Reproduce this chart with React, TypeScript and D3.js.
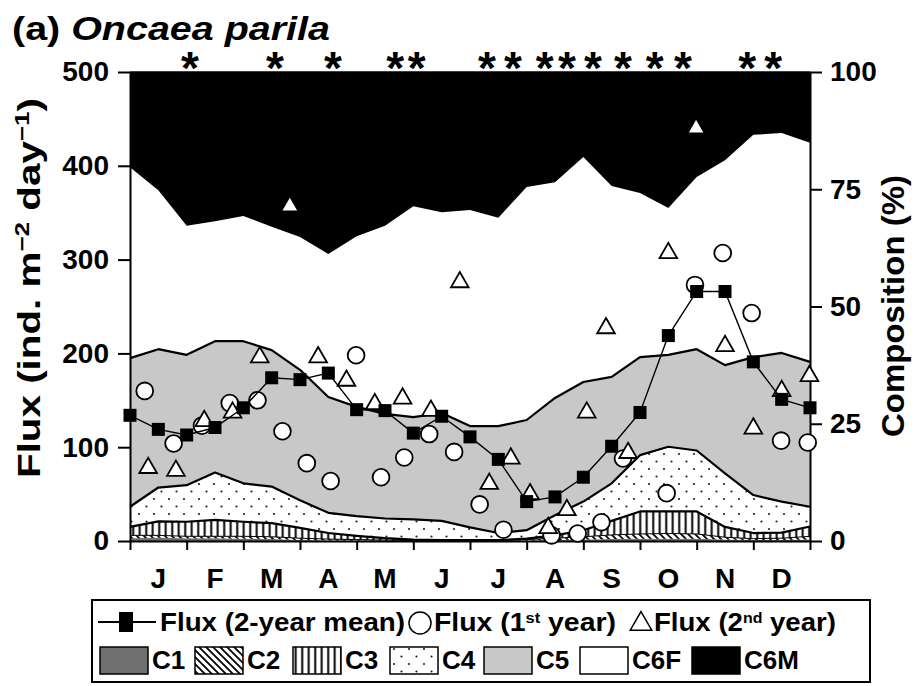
import React, { useEffect, useRef } from 'react';
import * as d3 from 'd3';

const months = ['J', 'F', 'M', 'A', 'M', 'J', 'J', 'A', 'S', 'O', 'N', 'D'];

// composition samples, twice a month (x in months from 1 Jan)
const compMonth = [0, 0.5, 1, 1.5, 2, 2.5, 3, 3.5, 4, 4.5, 5, 5.5, 6, 6.5, 7, 7.5, 8, 8.5, 9, 9.5, 10, 10.5, 11, 11.5, 12];
const c1 = [0.6, 0.7, 0.6, 0.6, 0.5, 0.4, 0.2, 0.1, 0.1, 0.1, 0.1, 0.1, 0.1, 0.1, 0.1, 0.2, 0.3, 0.4, 0.5, 0.5, 0.5, 0.3, 0.2, 0.2, 0.3];
const c2 = [0.6, 0.5, 0.4, 0.4, 0.5, 0.5, 0.4, 0.3, 0.2, 0.1, 0, 0, 0, 0, 0.2, 0.4, 0.6, 0.9, 1.0, 1.1, 1.0, 0.5, 0.3, 0.4, 0.7];
const c3 = [1.8, 3.0, 3.1, 3.5, 3.1, 2.9, 2.2, 1.3, 0.8, 0.4, 0.2, 0.1, 0.1, 0.1, 0.2, 0.6, 1.4, 3.0, 4.8, 4.7, 4.8, 2.2, 1.2, 1.2, 2.1];
const c4 = [4.3, 7.2, 7.8, 10.1, 8.2, 7.8, 5.9, 4.3, 4.2, 4.2, 4.3, 4.1, 2.7, 1.5, 1.8, 4.3, 6.1, 8.0, 12.0, 13.8, 13.0, 11.4, 8.1, 6.6, 4.2];
const c5 = [31.7, 29.5, 27.8, 28.0, 30.3, 29.1, 27.8, 24.7, 23.3, 22.3, 21.8, 23.0, 21.6, 22.8, 23.5, 25.0, 25.5, 22.7, 20.9, 19.6, 21.6, 23.1, 29.4, 31.7, 30.9];
const c6f = [40.7, 33.9, 27.5, 25.6, 26.7, 26.3, 28.3, 30.5, 36.4, 40.1, 45.0, 42.8, 46.1, 44.4, 49.7, 46.0, 48.0, 40.7, 35.0, 31.3, 36.7, 43.7, 47.4, 46.9, 46.7];
const c6m = [20.3, 25.2, 32.8, 31.8, 30.7, 33.0, 35.2, 38.8, 35.0, 32.8, 28.6, 29.9, 29.4, 31.1, 24.5, 23.5, 18.1, 24.3, 25.8, 29.0, 22.4, 18.8, 13.4, 13.0, 15.1];

// 2-year mean flux
const meanFlux = [134, 119, 113, 121, 142, 174, 172, 179, 140, 139, 115, 133, 111, 87, 42, 47, 68, 101, 137, 219, 266, 266, 191, 151, 142];

// 1st year
const y1Month = [0.26, 0.77, 1.27, 1.76, 2.25, 2.69, 3.12, 3.54, 3.99, 4.43, 4.84, 5.28, 5.72, 6.17, 6.59, 7.44, 7.9, 8.32, 8.7, 9.47, 9.97, 10.46, 10.97, 11.49, 11.96];
const y1Flux = [160, 104, 123, 147, 150, 117, 83, 64, 198, 68, 89, 114, 95, 39, 12, 6, 8, 20, 88, 51, 273, 307, 243, 107, 105];

// 2nd year
const y2Month = [0.32, 0.81, 1.31, 1.81, 2.29, 2.82, 3.32, 3.82, 4.32, 4.81, 5.31, 5.82, 6.34, 6.72, 7.06, 7.38, 7.71, 8.06, 8.4, 8.79, 9.5, 9.99, 10.5, 11.0, 11.5, 11.99];
const y2Flux = [79, 76, 129, 138, 197, 358, 197, 172, 147, 153, 140, 277, 62, 89, 51, 15, 34, 138, 228, 95, 308, 441, 209, 121, 161, 177];

// significance marks
const starMonth = [1.06, 2.56, 3.58, 4.68, 5.06, 6.3, 6.76, 7.32, 7.71, 8.17, 8.7, 9.26, 9.76, 10.89, 11.35];

const fluxTicks = [0, 100, 200, 300, 400, 500];
const pctTicks = [0, 25, 50, 75, 100];
const stages = ['C1', 'C2', 'C3', 'C4', 'C5', 'C6F', 'C6M'];

const FONT = '"Liberation Sans", Arial, sans-serif';

const App: React.FC = () => {
  const svgRef = useRef<SVGSVGElement>(null);

  useEffect(() => {
    if (!svgRef.current) return;
    const svg = d3.select(svgRef.current);
    svg.selectAll('*').remove();

    const left = 130, right = 810, top = 72, bottom = 541;
    const x = d3.scaleLinear().domain([0, 12]).range([left, right]);
    const yFlux = d3.scaleLinear().domain([0, 500]).range([bottom, top]);
    const yPct = d3.scaleLinear().domain([0, 100]).range([bottom, top]);

    const defs = svg.append('defs');
    const pc2 = defs.append('pattern').attr('id', 'p-c2').attr('patternUnits', 'userSpaceOnUse').attr('width', 7).attr('height', 7);
    pc2.append('rect').attr('width', 7).attr('height', 7).attr('fill', '#fff');
    pc2.append('path').attr('d', 'M-1,-1L8,8M-1,6L1,8M6,-1L8,1').attr('stroke', '#000').attr('stroke-width', 1.8);
    const pc3 = defs.append('pattern').attr('id', 'p-c3').attr('patternUnits', 'userSpaceOnUse').attr('width', 6.5).attr('height', 10);
    pc3.append('rect').attr('width', 6.5).attr('height', 10).attr('fill', '#fff');
    pc3.append('line').attr('x1', 3.2).attr('x2', 3.2).attr('y1', 0).attr('y2', 10).attr('stroke', '#000').attr('stroke-width', 2);
    const pc4 = defs.append('pattern').attr('id', 'p-c4').attr('patternUnits', 'userSpaceOnUse').attr('width', 15).attr('height', 15);
    pc4.append('rect').attr('width', 15).attr('height', 15).attr('fill', '#fff');
    pc4.append('circle').attr('cx', 4).attr('cy', 4).attr('r', 1.1).attr('fill', '#222');
    pc4.append('circle').attr('cx', 11.5).attr('cy', 11.5).attr('r', 1.1).attr('fill', '#222');

    const fills: Record<string, string> = {
      C1: '#6f6f6f', C2: 'url(#p-c2)', C3: 'url(#p-c3)', C4: 'url(#p-c4)',
      C5: '#c8c8c8', C6F: '#ffffff', C6M: '#000000',
    };

    // stacked composition
    const rows = compMonth.map((m, i) => ({
      m, C1: c1[i], C2: c2[i], C3: c3[i], C4: c4[i], C5: c5[i], C6F: c6f[i], C6M: c6m[i],
    }));
    const series = d3.stack<any>().keys(stages)(rows);
    const area = d3.area<any>()
      .x(d => x(d.data.m))
      .y0(d => yPct(d[0]))
      .y1(d => yPct(d[1]));
    const topLine = d3.line<any>().x(d => x(d.data.m)).y(d => yPct(d[1]));

    svg.append('g').selectAll('path').data(series).enter().append('path')
      .attr('d', area as any)
      .attr('fill', d => fills[d.key]);

    svg.append('g').selectAll('path').data(series.filter(s => ['C2', 'C3', 'C4', 'C5'].includes(s.key))).enter().append('path')
      .attr('d', d => topLine(d as any))
      .attr('fill', 'none')
      .attr('stroke', '#000')
      .attr('stroke-width', d => (d.key === 'C2' ? 1 : 2.2))
      .attr('stroke-linejoin', 'round');

    // axes
    const axisG = svg.append('g').style('font-family', FONT);
    const yl = axisG.append('g').attr('transform', `translate(${left},0)`)
      .call(d3.axisLeft(yFlux).tickValues(fluxTicks).tickSize(12).tickSizeOuter(0).tickPadding(9));
    const yr = axisG.append('g').attr('transform', `translate(${right},0)`)
      .call(d3.axisRight(yPct).tickValues(pctTicks).tickSize(12).tickSizeOuter(0).tickPadding(8));
    const xb = axisG.append('g').attr('transform', `translate(0,${bottom})`)
      .call(d3.axisBottom(x).tickValues(d3.range(0, 13)).tickSize(9).tickSizeOuter(0).tickFormat(() => ''));
    [yl, yr, xb].forEach(a => {
      a.selectAll('path').attr('stroke', '#000').attr('stroke-width', 2);
      a.selectAll('line').attr('stroke', '#000').attr('stroke-width', 2);
      a.selectAll('text').attr('fill', '#000').style('font-size', '28px').style('font-weight', 'bold').style('font-family', FONT);
    });
    svg.append('line').attr('x1', left).attr('x2', right).attr('y1', top).attr('y2', top).attr('stroke', '#000').attr('stroke-width', 1.5);

    axisG.append('g').selectAll('text').data(months).enter().append('text')
      .attr('x', (d, i) => x(i + 0.5))
      .attr('y', 588)
      .attr('text-anchor', 'middle')
      .style('font-size', '28px').style('font-weight', 'bold')
      .text(d => d);

    // axis titles
    const ylab = svg.append('text')
      .attr('transform', 'translate(40,288) rotate(-90)')
      .attr('text-anchor', 'middle')
      .attr('textLength', 380).attr('lengthAdjust', 'spacingAndGlyphs')
      .style('font-family', FONT).style('font-size', '31px').style('font-weight', 'bold');
    ylab.append('tspan').text('Flux (ind. m');
    ylab.append('tspan').attr('baseline-shift', 'super').style('font-size', '20px').text('\u22122');
    ylab.append('tspan').text(' day');
    ylab.append('tspan').attr('baseline-shift', 'super').style('font-size', '20px').text('\u22121');
    ylab.append('tspan').text(')');

    svg.append('text')
      .attr('transform', 'translate(904,306) rotate(-90)')
      .attr('text-anchor', 'middle')
      .attr('textLength', 262).attr('lengthAdjust', 'spacingAndGlyphs')
      .style('font-family', FONT).style('font-size', '31px').style('font-weight', 'bold')
      .text('Composition (%)');

    // title
    const title = svg.append('text').attr('x', 12).attr('y', 40)
      .attr('textLength', 318).attr('lengthAdjust', 'spacingAndGlyphs')
      .style('font-family', FONT).style('font-size', '33px').style('font-weight', 'bold');
    title.append('tspan').text('(a) ');
    title.append('tspan').style('font-style', 'italic').text('Oncaea parila');

    // stars
    svg.append('g').selectAll('text').data(starMonth).enter().append('text')
      .attr('x', d => x(d))
      .attr('y', 84)
      .attr('text-anchor', 'middle')
      .style('font-family', FONT).style('font-size', '46px').style('font-weight', 'bold')
      .text('*');

    // flux markers
    const tri = d3.symbol().type(d3.symbolTriangle).size(135);
    svg.append('g').selectAll('circle').data(y1Month).enter().append('circle')
      .attr('cx', d => x(d))
      .attr('cy', (d, i) => yFlux(y1Flux[i]))
      .attr('r', 8.4)
      .attr('fill', '#fff').attr('stroke', '#000').attr('stroke-width', 1.8);
    svg.append('g').selectAll('path').data(y2Month).enter().append('path')
      .attr('d', tri() as string)
      .attr('transform', (d, i) => `translate(${x(d)},${yFlux(y2Flux[i]) + 1})`)
      .attr('fill', '#fff').attr('stroke', '#000').attr('stroke-width', 1.8).attr('stroke-linejoin', 'miter');

    const meanLine = d3.line<number>().x((d, i) => x(compMonth[i])).y(d => yFlux(d));
    svg.append('path').datum(meanFlux).attr('d', meanLine)
      .attr('fill', 'none').attr('stroke', '#000').attr('stroke-width', 1.4);
    svg.append('g').selectAll('rect').data(meanFlux).enter().append('rect')
      .attr('x', (d, i) => x(compMonth[i]) - 6.5)
      .attr('y', d => yFlux(d) - 6.5)
      .attr('width', 13).attr('height', 13)
      .attr('fill', '#000');

    // legend
    const lg = svg.append('g').style('font-family', FONT).style('font-weight', 'bold').style('font-size', '26px');
    lg.append('rect').attr('x', 92).attr('y', 600).attr('width', 778).attr('height', 82)
      .attr('fill', '#fff').attr('stroke', '#000').attr('stroke-width', 2);
    const r1 = 622;
    lg.append('line').attr('x1', 98).attr('x2', 156).attr('y1', r1).attr('y2', r1).attr('stroke', '#000').attr('stroke-width', 2);
    lg.append('rect').attr('x', 119).attr('y', r1 - 10).attr('width', 14).attr('height', 20).attr('fill', '#000');
    lg.append('text').attr('x', 160).attr('y', r1 + 9)
      .attr('textLength', 245).attr('lengthAdjust', 'spacingAndGlyphs')
      .text('Flux (2-year mean)');
    lg.append('circle').attr('cx', 420).attr('cy', r1 + 1).attr('r', 11).attr('fill', '#fff').attr('stroke', '#000').attr('stroke-width', 1.5);
    const t1 = lg.append('text').attr('x', 434).attr('y', r1 + 9)
      .attr('textLength', 182).attr('lengthAdjust', 'spacingAndGlyphs');
    t1.append('tspan').text('Flux (1');
    t1.append('tspan').attr('baseline-shift', 'super').style('font-size', '15px').text('st');
    t1.append('tspan').text(' year)');
    lg.append('path').attr('d', d3.symbol().type(d3.symbolTriangle).size(200)() as string)
      .attr('transform', `translate(641,${r1 + 2})`)
      .attr('fill', '#fff').attr('stroke', '#000').attr('stroke-width', 1.5);
    const t2 = lg.append('text').attr('x', 654).attr('y', r1 + 9)
      .attr('textLength', 182).attr('lengthAdjust', 'spacingAndGlyphs');
    t2.append('tspan').text('Flux (2');
    t2.append('tspan').attr('baseline-shift', 'super').style('font-size', '15px').text('nd');
    t2.append('tspan').text(' year)');

    const swX = [100, 195, 293, 390, 484, 580, 692];
    const r2 = 660;
    stages.forEach((s, i) => {
      lg.append('rect').attr('x', swX[i]).attr('y', r2 - 13).attr('width', 48).attr('height', 27)
        .attr('fill', fills[s]).attr('stroke', '#000').attr('stroke-width', 1.5);
      lg.append('text').attr('x', swX[i] + 52).attr('y', r2 + 9).text(s);
    });
  }, []);

  return (
    <div style={{ position: 'absolute', left: 0, top: 0 }}>
      <svg ref={svgRef} width={915} height={686} style={{ display: 'block', background: '#fff' }} />
    </div>
  );
};

export default App;
